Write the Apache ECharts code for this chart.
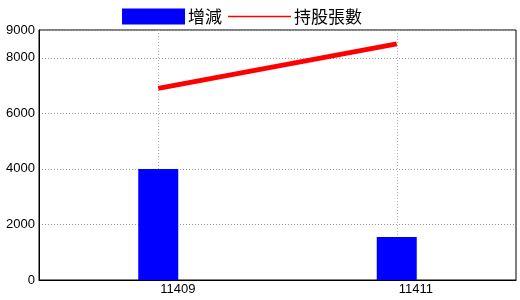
<!DOCTYPE html>
<html><head><meta charset="utf-8">
<script src="https://cdn.jsdelivr.net/npm/echarts@6/dist/echarts.min.js"></script>
<style>html,body{margin:0;padding:0;background:#fff}#c{width:520px;height:300px}</style>
</head><body><div id="c"></div>
<script>
const categories = ['11409', '11411'];
const changeValues = [4000, 1550];
const holdingValues = [6900, 8500];
const seriesNames = ['增減', '持股張數'];

const numFont = '"Liberation Sans Narrow", "Liberation Sans", sans-serif';
const chart = echarts.init(document.getElementById('c'), null, {renderer: 'canvas'});
chart.setOption({
  animation: false,
  backgroundColor: '#fff',
  legend: {
    left: 122, top: 8, padding: 0, itemWidth: 63, itemHeight: 16, itemGap: 6,
    textStyle: {fontFamily: 'Noto Sans CJK TC', fontSize: 17, color: '#000', padding: [0, 0, 0, -2]},
    data: [
      {name: seriesNames[0], icon: 'rect'},
      {name: seriesNames[1], icon: 'path://M0,0H0.01V0.01H0Z M0,7.3H63V8.7H0Z M0,15.99H0.01V16H0Z'}
    ]
  },
  grid: {left: 39, top: 30, right: 4, bottom: 20, show: true, borderColor: '#000', borderWidth: 1, containLabel: false},
  xAxis: {
    type: 'category', data: categories, boundaryGap: true,
    axisLine: {lineStyle: {color: '#000', width: 1}},
    axisTick: {show: false},
    axisLabel: {color: '#000', fontFamily: numFont, fontSize: 13, margin: 3, align: 'left', padding: [0, 0, 0, 2]},
    splitLine: {show: true, alignWithLabel: true, lineStyle: {color: '#aab4c0', type: [1, 2], width: 1}}
  },
  yAxis: {
    type: 'value', min: 0, max: 9000, interval: 2000,
    axisLine: {show: true, lineStyle: {color: '#000', width: 1}},
    axisTick: {show: false},
    axisLabel: {color: '#000', fontFamily: numFont, fontSize: 13, margin: 4, formatter: v => String(v)},
    splitLine: {show: true, lineStyle: {color: '#999', type: [1, 2], width: 1}}
  },
  series: [
    {name: seriesNames[0], type: 'bar', data: changeValues, barWidth: 40, itemStyle: {color: '#0000ff'}},
    {name: seriesNames[1], type: 'line', data: holdingValues, symbol: 'none', lineStyle: {color: '#ff0000', width: 5}, itemStyle: {color: '#ff0000'}}
  ]
});
</script></body></html>
